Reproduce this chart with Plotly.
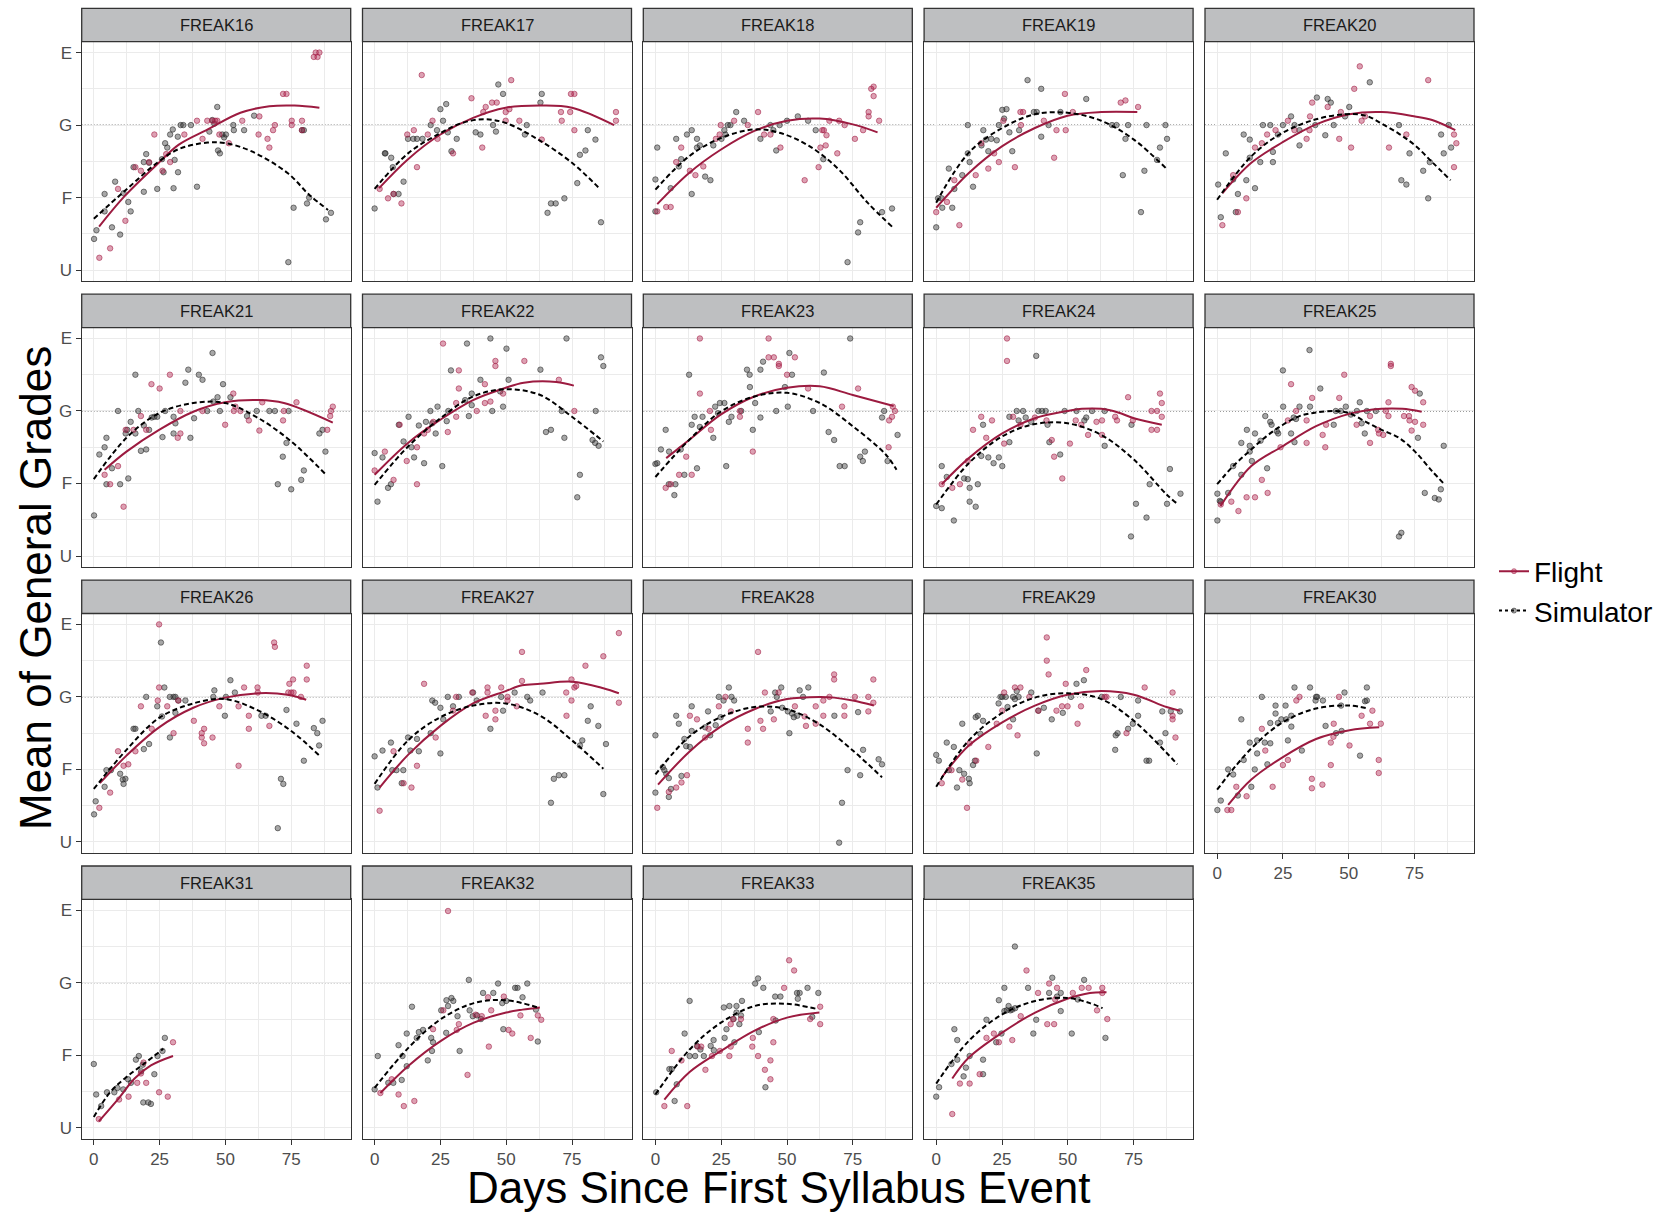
import plotly.graph_objects as go

# ---------------- data (day, grade) ; grade scale U=1, F=2, G=3, E=4 ----------------
PANELS = ["FREAK16", "FREAK17", "FREAK18", "FREAK19", "FREAK20",
          "FREAK21", "FREAK22", "FREAK23", "FREAK24", "FREAK25",
          "FREAK26", "FREAK27", "FREAK28", "FREAK29", "FREAK30",
          "FREAK31", "FREAK32", "FREAK33", "FREAK35"]

Y_TICK_VALS = [1, 2, 3, 4]
Y_TICK_TEXT = ["U", "F", "G", "E"]
X_TICK_VALS = [0, 25, 50, 75]
X_MINOR = [12.5, 37.5, 62.5, 87.5]
Y_MINOR = [1.5, 2.5, 3.5]
REF_GRADE = 3  # "G"

F16_SIM = [(0.1,1.43),(1.0,1.55),(4.1,2.05),(4.1,1.81),(6.9,1.59),(8.1,2.22),(10.0,1.49),(11.3,2.06),(13.1,1.94),(14.0,1.81),(15.1,2.42),(19.0,2.49),(19.0,2.08),(19.9,2.60),(21.0,2.48),(24.1,2.12),(25.9,2.53),(26.5,2.35),(27.1,2.75),(27.9,2.69),(29.0,2.87),(30.0,2.94),(30.7,2.52),(30.3,2.13),(31.9,2.84),(32.0,2.35),(33.0,3.0),(34.0,3.0),(36.9,3.0),(39.2,2.15),(43.9,2.91),(45.0,3.07),(45.8,3.02),(46.9,3.25),(47.2,2.65),(47.9,2.61),(48.8,2.87),(49.5,2.83),(50.2,2.87),(53.0,3.0),(53.2,2.93),(57.1,2.93),(60.9,3.13),(73.9,1.11),(75.9,1.86),(79.1,2.93),(79.8,2.93),(81.0,1.92),(81.8,2.0),(88.2,1.70),(90.1,1.79)]
F16_FLT = [(2.1,1.17),(6.2,1.30),(9.2,2.12),(12.0,1.68),(15.8,2.42),(17.9,2.37),(21.0,2.49),(23.0,2.87),(26.1,2.37),(27.5,2.60),(29.0,2.49),(34.4,2.87),(39.2,3.06),(41.3,2.81),(43.1,3.06),(45.0,3.06),(46.1,3.06),(46.9,3.06),(47.7,2.87),(51.3,2.75),(56.4,3.06),(62.6,2.87),(62.9,3.12),(66.0,2.81),(66.7,2.69),(68.1,2.93),(68.8,3.0),(71.9,3.43),(73.2,3.43),(75.2,3.06),(75.2,3.0),(79.1,3.06),(79.1,2.93),(83.6,3.94),(84.3,4.0),(85.7,4.0),(85.0,3.94)]
F16_FLT_FIT = [(2,1.60),(11.7,2.02),(24.1,2.46),(32.3,2.73),(43.3,2.94),(55.7,3.17),(66.7,3.26),(76.3,3.27),(85.7,3.24)]
F16_SIM_FIT = [(0,1.71),(11.7,2.09),(24.1,2.48),(32.3,2.67),(43.3,2.76),(50.2,2.75),(59.8,2.64),(73.6,2.34),(81.8,2.04),(89,1.83)]

F17_SIM = [(0,1.85),(3.9,2.61),(4.1,2.61),(6.3,2.55),(6.9,2.42),(7.2,2.05),(9.1,2.05),(11.0,2.22),(12.7,2.81),(14.7,2.81),(16.1,2.81),(18.2,2.81),(21.3,3.0),(23.7,2.93),(25.0,3.22),(26.0,3.06),(27.2,3.29),(27.8,2.90),(29.2,2.64),(31.2,2.81),(38.4,2.90),(40.2,2.87),(45.0,3.0),(46.1,2.91),(47.0,3.56),(48.8,3.43),(57.1,2.87),(57.8,3.0),(63.5,3.43),(63.0,3.31),(65.7,1.79),(67.0,1.92),(68.8,1.92),(72.1,1.99),(77.0,2.20),(78.0,2.59),(80.1,2.65),(81.0,2.93),(83.9,2.80),(86.0,1.66)]
F17_FLT = [(1.9,2.12),(5.1,1.99),(7.2,2.05),(10.2,1.92),(12.4,2.87),(14.9,2.93),(16.1,2.42),(17.9,3.69),(20.2,2.87),(22.0,3.06),(23.9,2.81),(29.8,2.61),(36.8,3.37),(40.9,2.69),(41.3,3.18),(42.2,3.25),(44.6,3.31),(46.4,3.31),(49.8,3.18),(49.8,3.06),(51.2,3.22),(51.9,3.62),(55.0,3.06),(63.5,2.80),(70.8,3.18),(71.1,3.06),(74.3,3.18),(74.6,3.43),(75.9,3.43),(75.9,2.93),(91.7,3.18),(91.7,3.06)]
F17_FLT_FIT = [(1.7,2.13),(12.7,2.53),(25,2.87),(37.4,3.10),(49.8,3.24),(63.5,3.27),(75,3.24),(91,3.0)]
F17_SIM_FIT = [(0,2.12),(12.7,2.61),(25,2.89),(33.3,3.03),(41.5,3.08),(49.8,3.03),(62.2,2.80),(75,2.48),(85.6,2.12)]

F18_SIM = [(0,2.25),(0,1.81),(0.7,2.69),(5.8,2.13),(7.9,2.81),(8.9,2.43),(9.8,2.53),(12.0,2.87),(13.8,2.93),(13.8,2.05),(15.8,2.81),(15.8,2.69),(16.9,2.72),(18.9,2.29),(20.9,2.24),(22.0,2.72),(25.1,2.81),(26.2,2.93),(26.6,2.87),(27.5,3.0),(28.5,3.0),(30.7,3.18),(33.7,3.06),(39.9,2.81),(43.7,3.0),(44.8,2.93),(45.9,2.65),(47.2,3.0),(50.0,3.06),(54.1,3.12),(58.0,3.06),(60.9,2.93),(63.8,2.53),(73.0,1.11),(77.0,1.52),(77.8,1.66),(86.1,1.80),(89.9,1.85)]
F18_FLT = [(0.7,1.81),(4.1,1.87),(5.8,1.87),(7.9,2.49),(9.8,2.69),(13.1,2.37),(15.2,2.31),(18.2,2.43),(23.0,2.81),(24.4,2.87),(24.8,3.0),(29.9,3.06),(35.1,3.0),(39.0,3.18),(41.3,2.87),(43.7,2.87),(47.5,2.69),(56.7,2.24),(62.0,2.42),(62.7,2.69),(63.4,2.93),(64.0,2.93),(64.7,2.72),(65.0,2.86),(66.1,3.06),(69.1,2.61),(69.8,3.06),(71.9,3.0),(75.8,2.81),(78.9,2.93),(81.0,3.12),(81.0,3.18),(82.0,3.50),(82.9,3.53),(82.9,3.40),(85.0,3.06)]
F18_FLT_FIT = [(0.7,1.91),(12.8,2.34),(24.8,2.66),(37.6,2.92),(50,3.06),(62.4,3.09),(75,3.01),(84.4,2.90)]
F18_SIM_FIT = [(0,2.11),(12.8,2.57),(24.8,2.82),(37.6,2.94),(47.5,2.89),(58.5,2.71),(69.6,2.39),(80.6,1.93),(89.9,1.60)]

F19_SIM = [(0,1.59),(0.7,1.99),(2.1,1.99),(2.3,1.86),(4.8,2.40),(6.1,1.86),(6.9,2.12),(9.9,2.31),(12.0,2.61),(12.7,2.49),(12.0,3.0),(14.0,2.15),(17.2,2.72),(17.9,2.93),(18.9,2.80),(19.8,2.64),(20.9,2.81),(23.0,2.79),(23.8,3.0),(25.1,3.21),(25.8,3.09),(26.7,3.22),(27.8,2.90),(28.9,2.64),(31.5,2.93),(34.7,3.62),(37.1,3.18),(38.2,3.18),(39.9,3.50),(39.9,2.84),(42.7,3.0),(47.2,3.18),(57.0,3.36),(66.8,3.0),(68.5,3.0),(70.9,2.31),(71.9,2.81),(72.9,3.0),(77.8,1.80),(79.1,2.37),(79.9,3.0),(83.9,2.52),(85.0,2.69),(87.1,3.0),(87.7,2.81)]
F19_FLT = [(0,1.80),(4.1,1.94),(6.9,2.24),(8.8,1.62),(15.0,2.31),(17.1,2.75),(19.8,2.40),(22.0,2.61),(23.8,2.49),(25.5,3.06),(29.9,2.42),(32.0,3.18),(33.0,3.18),(32.2,3.0),(40.9,3.06),(44.8,2.55),(45.7,2.93),(48.9,3.43),(49.2,2.93),(51.9,3.18),(70.1,3.31),(71.9,3.34),(76.7,3.25)]
F19_FLT_FIT = [(0,1.86),(12.4,2.34),(25.1,2.71),(37.5,2.96),(49.9,3.13),(62.7,3.18),(76.4,3.18)]
F19_SIM_FIT = [(0,1.93),(12.4,2.62),(25.1,2.96),(37.5,3.15),(49.9,3.17),(62.7,3.06),(75.1,2.80),(87.7,2.39)]

F20_SIM = [(0.4,2.18),(1.4,1.73),(3.3,2.61),(6.1,2.25),(7.1,1.80),(7.9,2.05),(10.1,2.87),(11.1,2.24),(12.4,2.80),(12.4,2.55),(14.4,2.13),(16.4,2.49),(17.4,3.0),(20.2,3.0),(21.2,2.63),(21.2,2.49),(23.1,2.87),(25.0,3.0),(28.1,3.12),(29.4,3.0),(31.3,2.93),(31.3,2.72),(37.3,3.0),(37.9,3.38),(41.1,2.86),(42.0,3.36),(43.2,3.31),(44.3,3.0),(48.6,3.12),(50.2,3.25),(58.0,3.59),(69.1,3.0),(70.0,2.24),(71.9,2.18),(73.1,2.61),(78.3,2.37),(80.2,1.99),(80.8,2.49),(85.1,2.87),(86.1,2.61),(88.0,3.0),(88.9,2.69)]
F20_FLT = [(2.0,1.62),(6.1,2.31),(7.9,1.80),(11.1,1.99),(14.4,2.69),(17.0,2.75),(19.0,2.87),(22.2,2.93),(26.9,3.06),(29.4,2.93),(34.0,2.81),(35.1,2.93),(35.3,3.12),(36.1,3.31),(42.0,3.25),(46.4,2.81),(47.0,3.18),(50.9,2.69),(52.1,3.50),(54.2,3.81),(54.9,3.06),(56.2,3.12),(65.3,2.69),(71.9,2.87),(80.2,3.62),(90.0,2.87),(90.9,2.75),(90.0,2.42)]
F20_FLT_FIT = [(2,2.06),(13,2.48),(24.7,2.76),(37.6,3.01),(50.2,3.15),(62.5,3.18),(75.2,3.12),(81.7,3.07),(90.5,2.93)]
F20_SIM_FIT = [(0,1.97),(13,2.57),(24.7,2.89),(37.6,3.08),(48.9,3.15),(56.5,3.13),(62.5,3.02),(69.1,2.88),(75.2,2.72),(81.7,2.49),(88.7,2.24)]

F21_SIM = [(0.1,1.56),(2.1,2.40),(4.1,2.50),(4.8,2.63),(4.8,1.99),(6.9,2.21),(9.2,3.0),(10.0,1.99),(12.1,2.69),(12.7,2.74),(13.1,2.07),(14.0,2.85),(15.8,3.50),(15.8,2.69),(16.9,3.0),(17.9,2.45),(19.0,2.80),(19.9,2.47),(21.0,2.74),(22.0,2.91),(23.0,2.92),(24.1,2.92),(26.1,2.64),(27.1,3.0),(30.3,2.92),(30.3,2.69),(31.0,2.83),(34.8,3.39),(35.9,3.57),(36.7,2.63),(38.1,2.90),(39.9,3.50),(41.3,3.43),(43.1,3.0),(45.1,3.80),(45.4,3.13),(47.0,3.19),(47.9,3.0),(49.1,3.37),(51.9,3.19),(58.2,2.93),(61.9,3.0),(66.7,3.0),(68.8,3.0),(69.9,1.99),(71.8,2.37),(73.2,2.56),(74.0,3.0),(75.0,1.92),(78.8,2.05),(79.8,2.18),(85.7,2.69),(86.9,2.74),(88.0,2.44)]
F21_FLT = [(4.1,2.12),(6.2,1.99),(9.2,2.24),(11.3,1.68),(12.1,2.74),(15.1,2.74),(17.9,2.93),(19.9,2.74),(21.9,3.37),(25.0,3.31),(28.9,3.50),(31.9,2.63),(32.9,2.69),(32.9,3.0),(41.3,3.0),(49.9,2.81),(53.0,3.24),(53.2,3.0),(53.8,3.06),(55.7,3.0),(58.9,2.87),(62.9,2.73),(64.0,3.12),(71.9,2.87),(72.2,3.0),(77.0,3.12),(88.7,2.74),(89.8,2.93),(90.1,3.0),(90.8,3.06)]
F21_FLT_FIT = [(4.1,2.19),(12.4,2.44),(24.8,2.74),(37.8,2.99),(49.9,3.12),(62.6,3.15),(72.2,3.11),(90.8,2.84)]
F21_SIM_FIT = [(0,2.06),(12.4,2.63),(24.8,2.97),(37.8,3.11),(49.9,3.11),(62.6,2.90),(75,2.58),(88,2.13)]

F22_SIM = [(0,2.42),(1.1,1.75),(3.0,2.36),(5.1,1.94),(6.2,1.99),(9.2,2.81),(11.0,2.58),(12.9,2.92),(14.0,2.50),(15.0,2.36),(16.8,2.80),(18.8,2.28),(19.5,2.85),(21.2,3.0),(21.9,2.83),(23.2,2.69),(23.9,3.06),(25.7,2.24),(27.4,2.86),(28.0,3.0),(29.0,3.56),(34.4,3.15),(35.1,3.93),(35.8,2.93),(36.9,3.24),(36.9,3.08),(40.2,3.43),(44.0,4.0),(44.7,3.0),(47.7,3.27),(48.8,3.06),(50.1,3.86),(50.9,3.43),(63.0,3.57),(65.1,2.71),(67.0,2.74),(71.1,3.0),(72.1,2.63),(72.9,4.0),(77.0,1.81),(78.0,2.12),(82.8,2.60),(83.8,2.56),(84.0,3.0),(85.1,2.52),(86.0,3.74),(86.9,3.62)]
F22_FLT = [(0,2.18),(3.9,2.44),(7.2,2.05),(9.5,2.81),(12.2,2.31),(16.1,2.50),(16.1,1.99),(18.8,2.69),(20.2,2.74),(22.3,2.85),(26.0,3.93),(27.8,2.71),(31.0,2.92),(31.0,3.11),(32.0,3.31),(32.0,3.56),(38.8,3.0),(41.9,3.37),(41.9,3.11),(44.0,3.13),(45.9,3.69),(45.9,3.62),(48.8,3.24),(56.9,3.69),(70.0,3.43),(75.9,3.0)]
F22_FLT_FIT = [(0,2.12),(12.7,2.56),(25,2.88),(37.4,3.15),(49.8,3.32),(56.7,3.39),(69,3.40),(75.7,3.35)]
F22_SIM_FIT = [(0,1.98),(12.7,2.51),(25,2.90),(37.4,3.20),(49.8,3.30),(62.9,3.22),(75,2.92),(86.9,2.58)]

F23_SIM = [(0,2.27),(0.7,2.28),(2.1,2.47),(3.9,2.74),(5.1,1.99),(5.2,2.44),(7.2,1.84),(7.6,1.99),(9.6,2.47),(11.0,2.12),(12.8,3.50),(13.8,2.81),(14.9,2.92),(15.8,2.21),(16.9,2.78),(17.9,2.92),(22.0,2.63),(22.7,3.06),(23.8,2.97),(24.5,3.11),(26.2,3.11),(26.9,2.24),(27.9,2.85),(28.9,2.92),(32.6,3.0),(34.8,3.57),(35.8,3.50),(35.9,3.33),(37.0,2.74),(37.9,3.11),(39.9,2.91),(39.9,3.57),(40.9,3.68),(45.9,3.0),(49.2,3.33),(50.3,3.06),(50.9,3.80),(51.9,3.50),(59.9,3.0),(64.0,3.53),(65.8,2.71),(67.9,2.60),(70.0,2.24),(71.9,2.24),(74.0,4.0),(77.8,2.37),(78.8,2.31),(79.6,2.44),(86.1,2.91),(86.9,3.0),(88.2,2.31),(92.0,2.67)]
F23_FLT = [(3.9,1.94),(5.8,1.99),(9.0,2.12),(11.7,2.37),(13.8,2.12),(16.9,4.0),(16.9,3.24),(20.7,3.0),(21.1,2.74),(32.1,3.0),(32.1,2.92),(37.0,2.44),(43.0,4.0),(43.0,3.74),(45.0,3.74),(46.9,3.65),(46.9,3.62),(50.0,3.50),(53.0,3.74),(58.0,3.31),(70.9,3.06),(77.0,3.31),(88.6,2.50),(88.8,2.87),(89.9,2.92),(90.2,3.06),(91.0,3.0)]
F23_FLT_FIT = [(4.1,2.35),(12.8,2.60),(24.8,2.95),(37.6,3.20),(50,3.32),(62.4,3.34),(75,3.22),(90.5,3.07)]
F23_SIM_FIT = [(0,2.09),(12.8,2.60),(24.8,2.99),(37.6,3.20),(50,3.25),(62.4,3.11),(75,2.79),(87.5,2.40),(91.6,2.19)]

F24_SIM = [(0,1.69),(2.1,1.66),(2.1,2.24),(4.0,2.09),(6.7,1.49),(10.6,2.07),(12.0,2.06),(12.7,1.94),(12.7,1.75),(15.0,1.68),(15.8,1.99),(17.1,2.38),(17.8,2.81),(19.8,2.36),(21.8,2.28),(23.8,2.36),(25.1,2.24),(27.8,2.57),(27.8,2.92),(30.6,3.0),(31.3,2.87),(33.0,3.0),(34.0,2.91),(36.1,2.85),(38.0,3.76),(38.8,3.0),(40.2,3.0),(41.6,3.0),(42.3,2.81),(43.0,2.57),(47.1,2.40),(48.8,3.0),(53.3,3.0),(56.3,2.87),(57.0,2.91),(59.2,3.0),(64.0,2.52),(64.0,3.0),(74.0,1.27),(74.2,2.81),(75.9,1.72),(79.9,1.53),(81.1,1.99),(87.7,1.72),(88.8,2.20),(92.8,1.86)]
F24_FLT = [(2.1,1.99),(6.1,1.94),(9.0,1.99),(12.0,2.31),(14.0,2.74),(17.1,2.92),(19.0,2.63),(21.2,2.87),(25.8,2.55),(26.9,4.0),(26.9,3.69),(29.2,2.92),(32.0,2.81),(37.5,2.91),(41.9,2.87),(43.9,2.60),(44.8,2.37),(47.9,2.07),(50.8,2.55),(53.0,2.87),(55.1,2.81),(57.7,2.67),(60.9,2.85),(63.0,2.87),(63.0,2.67),(68.0,2.92),(68.7,2.87),(72.9,3.19),(74.7,2.87),(81.8,3.0),(81.8,2.74),(83.9,3.0),(83.9,2.74),(85.0,3.24),(85.7,3.11),(85.7,2.92)]
F24_FLT_FIT = [(2.1,1.99),(12.4,2.35),(25.1,2.69),(37.5,2.90),(49.9,3.0),(55.4,3.03),(62.7,3.03),(69.1,2.98),(75.1,2.90),(85.7,2.81)]
F24_SIM_FIT = [(0,1.71),(12.4,2.28),(25.1,2.65),(37.5,2.82),(49.9,2.83),(62.7,2.67),(75.1,2.33),(87.5,1.85),(91.6,1.72)]

F25_SIM = [(0.1,1.86),(0.1,1.49),(1.0,1.76),(1.4,1.75),(4.2,1.87),(6.1,2.24),(9.2,2.56),(9.2,2.12),(11.3,2.74),(12.4,2.52),(12.4,2.44),(13.2,2.31),(14.4,2.69),(16.5,2.59),(18.3,2.93),(19.0,2.21),(20.2,2.85),(20.7,2.81),(22.7,2.72),(23.2,2.69),(25.0,3.56),(25.1,3.06),(28.1,2.69),(29.1,2.91),(29.4,2.57),(30.0,2.89),(31.3,3.06),(35.1,3.84),(35.3,3.06),(39.2,3.31),(44.3,2.81),(45.1,3.0),(47.0,3.0),(48.9,3.06),(50.8,2.95),(53.1,3.0),(54.2,3.12),(54.9,2.83),(56.1,2.69),(56.9,3.0),(60.3,3.0),(69.1,1.27),(70.0,1.32),(76.3,2.63),(77.0,3.24),(78.9,1.87),(82.7,1.80),(84.2,1.78),(85.0,1.92),(86.1,2.52)]
F25_FLT = [(1.4,1.71),(5.4,1.75),(8.1,1.62),(11.2,1.81),(14.4,1.81),(17.0,2.05),(19.2,1.87),(24.1,2.50),(26.9,2.87),(28.1,3.37),(30.0,3.0),(34.0,2.87),(34.0,2.56),(36.1,3.18),(40.1,2.67),(41.1,2.50),(41.4,2.81),(46.4,3.18),(48.3,3.50),(53.0,2.81),(58.1,2.56),(58.1,2.93),(61.2,2.74),(61.5,2.69),(63.1,2.67),(64.1,3.0),(65.1,2.93),(65.1,3.12),(66.0,3.65),(66.0,3.62),(71.0,2.93),(72.9,2.93),(73.1,2.87),(73.9,3.33),(73.9,2.73),(75.2,3.28),(75.2,2.85),(78.3,3.12),(78.3,2.81)]
F25_FLT_FIT = [(1.3,1.69),(13,2.24),(24.7,2.51),(37.6,2.79),(50.2,2.96),(62.5,3.03),(70.4,3.03),(77.7,2.99)]
F25_SIM_FIT = [(0,1.99),(6.1,2.24),(12.4,2.45),(18.7,2.65),(25,2.81),(31.3,2.93),(37.6,2.98),(45.1,3.0),(50.2,2.97),(56.5,2.85),(62.5,2.74),(69.1,2.63),(75.2,2.44),(81.7,2.17),(86.1,2.0)]

F26_SIM = [(0.1,1.38),(0.7,1.56),(4.1,1.76),(4.8,1.99),(6.5,1.99),(10.0,1.94),(11.0,1.86),(11.3,1.80),(12.0,1.87),(15.1,2.56),(15.8,2.56),(19.0,2.28),(19.9,3.0),(21.0,2.35),(24.1,2.87),(25.5,3.75),(25.9,2.73),(26.8,3.13),(28.9,3.0),(28.9,2.44),(30.3,3.0),(31.0,3.0),(31.0,2.78),(32.1,2.95),(34.8,2.95),(45.4,3.0),(45.8,3.09),(49.8,2.74),(50.2,3.0),(51.9,3.23),(53.6,3.06),(63.7,2.74),(65.3,2.74),(69.9,1.19),(71.1,1.87),(72.0,1.80),(73.2,2.82),(77.0,2.63),(79.8,2.12),(83.6,2.57),(84.9,2.50),(85.6,2.33),(86.9,2.67)]
F26_FLT = [(2.1,1.47),(6.2,1.68),(9.2,2.25),(11.3,2.05),(13.1,2.07),(15.8,2.25),(17.9,2.87),(22.0,2.56),(24.3,2.95),(24.8,4.0),(24.8,3.13),(27.9,2.87),(30.3,2.50),(32.1,2.95),(38.0,2.67),(41.0,2.44),(41.0,2.50),(41.9,2.56),(41.9,2.36),(45.1,2.44),(47.7,2.87),(55.0,2.87),(55.0,2.05),(57.1,3.13),(58.9,2.74),(58.9,2.56),(62.2,3.13),(62.3,3.06),(66.7,2.60),(68.5,3.75),(68.8,3.69),(73.9,3.06),(74.3,3.18),(75.0,3.06),(75.7,3.24),(75.9,3.06),(78.7,3.0),(80.9,3.43),(80.9,3.24)]
F26_FLT_FIT = [(2.3,1.81),(12.4,2.19),(24.8,2.58),(37.8,2.85),(49.9,2.99),(62.6,3.05),(73.6,3.03),(80.7,2.96)]
F26_SIM_FIT = [(0,1.73),(12.4,2.27),(24.8,2.71),(37.8,2.91),(49.9,2.97),(62.6,2.81),(75,2.53),(85.7,2.19)]

F27_SIM = [(0,2.18),(1.1,1.75),(3.0,2.26),(6.2,2.37),(6.7,1.99),(8.3,1.99),(10.3,1.81),(10.9,1.99),(12.7,2.44),(13.6,2.26),(16.8,2.25),(16.1,2.42),(21.3,2.50),(21.9,2.95),(23.0,2.92),(25.0,2.85),(25.0,2.22),(26.1,2.69),(27.8,3.0),(29.8,2.87),(32.0,3.0),(37.4,3.06),(38.8,2.95),(44.0,2.56),(48.1,3.0),(48.8,2.81),(53.2,3.06),(58.0,3.0),(59.1,2.95),(63.8,3.06),(67.0,1.54),(68.1,1.87),(70.0,1.92),(72.1,1.92),(78.0,2.33),(78.9,2.40),(81.0,2.67),(82.1,2.87),(85.0,2.60),(86.9,1.66),(87.9,2.35)]
F27_FLT = [(1.9,1.43),(7.2,2.25),(11.0,1.81),(14.0,1.75),(16.1,2.05),(18.8,3.18),(23.2,2.44),(29.8,2.81),(31.0,3.0),(37.1,3.06),(42.2,2.74),(42.9,3.13),(42.9,3.06),(45.9,2.69),(45.9,2.81),(48.1,3.13),(50.5,2.95),(50.5,3.0),(54.0,2.87),(56.0,3.62),(56.0,3.22),(72.8,3.06),(72.9,2.74),(74.8,2.95),(74.8,3.24),(75.9,3.13),(76.6,3.15),(80.1,3.43),(86.9,3.56),(92.8,3.88),(92.8,2.92)]
F27_FLT_FIT = [(1.9,1.75),(12.7,2.20),(25,2.60),(37.4,2.91),(49.8,3.08),(56,3.16),(62.9,3.18),(75,3.21),(86.9,3.12),(92.8,3.05)]
F27_SIM_FIT = [(0,1.80),(12.7,2.40),(25,2.72),(37.4,2.88),(49.8,2.91),(62.9,2.74),(75,2.40),(86.9,2.01)]

F28_SIM = [(0,2.47),(0,1.68),(2.8,2.03),(3.4,1.99),(4.1,1.94),(5.1,1.88),(5.1,1.62),(5.9,1.73),(7.9,2.74),(8.9,2.63),(9.9,1.91),(11.0,2.42),(11.7,2.32),(13.1,2.31),(13.8,2.87),(13.8,2.53),(18.9,2.58),(20.8,2.47),(20.0,2.80),(22.9,2.61),(24.1,3.0),(24.8,2.72),(25.9,2.95),(27.9,3.13),(28.9,3.0),(29.9,2.95),(43.8,2.80),(45.5,3.06),(46.1,3.0),(47.8,3.13),(48.2,2.85),(50.3,2.80),(50.9,2.50),(51.9,2.77),(52.6,2.72),(53.9,2.74),(54.8,3.09),(56.1,3.0),(58.1,3.13),(68.0,2.74),(69.8,0.99),(70.9,1.54),(73.0,1.99),(77.0,2.79),(77.8,1.92),(78.9,2.27),(84.8,2.14),(86.1,2.07)]
F28_FLT = [(0.7,1.47),(5.1,1.69),(7.9,1.75),(9.9,1.82),(12.0,1.92),(13.1,2.74),(15.8,2.69),(18.9,2.44),(20.2,2.56),(24.1,2.87),(26.6,3.0),(28.7,2.80),(35.1,2.37),(35.1,2.56),(39.0,3.62),(39.9,2.67),(40.9,2.56),(41.6,3.06),(45.0,2.69),(46.8,3.06),(53.0,2.87),(56.7,2.73),(57.2,2.60),(60.9,2.87),(60.9,2.63),(63.8,2.95),(63.8,2.74),(66.1,3.0),(67.9,3.31),(67.9,3.24),(71.8,2.87),(71.8,2.74),(75.8,3.0),(80.9,3.0),(80.9,2.80),(82.8,3.24),(82.8,2.92)]
F28_FLT_FIT = [(1,1.79),(12.8,2.24),(24.8,2.59),(37.6,2.83),(50,2.97),(62.4,3.0),(67.9,2.99),(75,2.95),(83,2.88)]
F28_SIM_FIT = [(0,1.93),(12.8,2.45),(24.8,2.72),(37.6,2.86),(50,2.83),(62.4,2.62),(75,2.26),(86.1,1.89)]

F29_SIM = [(0,2.20),(1.0,2.12),(4.0,2.37),(4.8,1.99),(6.7,2.31),(7.9,1.75),(8.8,1.99),(9.9,2.63),(10.6,1.94),(12.4,1.87),(12.7,1.81),(14.0,2.06),(14.7,2.12),(15.0,2.72),(15.8,2.74),(16.8,2.49),(17.8,2.67),(23.7,2.91),(24.4,3.0),(25.1,3.0),(26.4,3.0),(27.1,2.86),(29.2,2.69),(29.2,3.0),(29.9,2.97),(30.6,3.08),(31.3,3.0),(36.1,3.06),(38.2,2.22),(38.8,2.81),(40.9,2.85),(43.9,2.69),(48.1,2.78),(51.2,3.0),(53.3,3.18),(56.1,3.23),(62.9,3.0),(68.2,2.47),(68.0,2.27),(68.9,2.50),(70.1,3.0),(72.9,2.56),(74.7,2.63),(76.7,2.74),(76.7,2.95),(79.9,2.12),(80.9,2.12),(85.0,2.37),(85.9,2.80),(87.1,2.50),(89.1,2.80),(92.6,2.80)]
F29_FLT = [(2.1,1.81),(5.8,1.99),(9.9,1.86),(11.7,1.47),(12.7,2.36),(15.2,2.12),(19.8,2.31),(23.0,2.63),(25.1,2.81),(25.8,3.06),(27.8,2.59),(29.9,3.13),(30.9,2.47),(32.0,3.13),(35.4,3.0),(38.8,2.81),(42.0,3.82),(42.0,3.50),(42.7,3.31),(45.7,2.81),(47.8,2.87),(49.2,3.18),(49.9,2.87),(53.7,2.63),(55.0,2.87),(57.0,3.37),(64.0,3.0),(64.7,3.0),(72.3,2.50),(79.2,3.13),(89.8,3.06),(89.8,2.74),(89.8,2.69),(90.9,2.44)]
F29_FLT_FIT = [(2.1,1.89),(12.4,2.33),(25.1,2.65),(37.5,2.88),(49.9,3.03),(62.7,3.08),(75.1,3.03),(87.5,2.86),(92.6,2.81)]
F29_SIM_FIT = [(0,1.76),(12.4,2.40),(25.1,2.78),(37.5,2.99),(49.9,3.05),(62.7,2.97),(75.1,2.67),(87.5,2.23),(91.6,2.07)]

F30_SIM = [(0.1,1.44),(1.4,1.57),(4.2,2.0),(6.1,1.93),(7.9,1.64),(9.2,2.69),(10.1,2.13),(12.4,2.37),(13.0,1.76),(14.3,2.0),(15.2,2.22),(15.2,2.40),(17.0,3.0),(18.1,2.37),(19.1,2.07),(20.2,2.36),(20.2,2.64),(22.2,2.88),(22.2,2.77),(23.1,2.64),(24.4,2.69),(26.0,2.88),(26.3,2.69),(26.9,2.40),(28.2,2.74),(28.2,2.59),(29.4,3.13),(32.2,2.26),(35.3,3.13),(37.6,3.0),(38.0,3.0),(37.4,2.95),(40.2,2.95),(41.2,2.60),(45.2,2.50),(47.3,2.53),(47.1,2.88),(48.4,3.06),(54.3,2.19),(56.2,2.94),(56.9,2.95),(56.9,3.13)]
F30_FLT = [(3.9,1.44),(5.4,1.44),(7.3,1.76),(11.2,1.63),(17.0,2.56),(18.3,2.26),(21.1,1.76),(25.0,2.06),(26.9,2.13),(30.1,2.95),(31.3,3.0),(36.0,1.87),(36.0,1.74),(40.0,1.79),(43.2,2.37),(43.2,2.06),(44.2,2.45),(44.3,2.63),(46.3,3.0),(50.3,2.33),(54.9,2.74),(58.1,2.63),(59.0,2.81),(61.4,2.13),(61.4,1.95),(62.2,2.63)]
F30_FLT_FIT = [(4.2,1.51),(13,1.86),(25,2.17),(37.6,2.42),(50.3,2.54),(61.6,2.58)]
F30_SIM_FIT = [(0,1.72),(13,2.29),(25,2.65),(37.6,2.84),(50.3,2.88),(57.2,2.84)]

F31_SIM = [(0,1.88),(0.9,1.46),(2.8,1.30),(5.0,1.49),(7.8,1.49),(9.0,1.55),(11.2,1.53),(13.0,1.67),(14.1,1.62),(16.0,1.94),(17.1,1.99),(18.0,1.78),(18.6,1.87),(18.8,1.35),(20.7,1.35),(21.7,1.33),(23.0,1.74),(24.2,1.99),(26.1,2.06),(27.0,2.24)]
F31_FLT = [(1.9,1.12),(9.6,1.39),(13.2,1.43),(16.5,1.62),(17.9,1.75),(18.9,1.90),(19.9,1.62),(24.8,1.49),(28.1,1.43),(30.1,2.18)]
F31_FLT_FIT = [(1.9,1.09),(9.3,1.40),(15.5,1.68),(21.7,1.86),(30.1,1.99)]
F31_SIM_FIT = [(0,1.15),(6.2,1.49),(12.4,1.70),(18.6,1.87),(26.4,2.09)]

F32_SIM = [(0,1.53),(1.2,1.99),(5.2,1.62),(7.1,1.62),(9.1,2.14),(10.3,1.66),(10.6,1.99),(12.2,2.30),(12.2,1.85),(14.2,2.67),(16.0,2.24),(16.8,2.32),(18.4,2.35),(20.2,1.93),(21.5,2.24),(21.8,2.06),(22.2,2.18),(25.3,2.62),(27.2,2.31),(27.3,2.76),(27.9,2.68),(29.2,2.79),(29.9,2.75),(31.5,2.54),(32.3,2.06),(35.8,3.04),(36.1,2.62),(37.3,2.54),(38.9,2.55),(40.4,2.50),(41.2,2.86),(45.1,2.86),(46.9,2.99),(48.5,2.72),(48.9,2.36),(50.0,2.75),(53.4,2.93),(54.3,2.93),(56.2,2.80),(58.0,2.99),(61.3,2.63),(62.0,2.19)]
F32_FLT = [(2.2,1.48),(6.5,1.67),(9.1,1.46),(11.1,1.30),(15.1,1.37),(22.2,2.36),(26.1,2.62),(27.9,3.99),(31.2,2.35),(32.0,2.43),(35.3,1.73),(38.4,2.56),(40.7,2.54),(43.1,2.80),(43.4,2.12),(44.3,2.62),(49.1,2.81),(50.9,2.35),(52.3,2.30),(55.4,2.55),(59.3,2.24),(62.0,2.55),(63.3,2.49)]
F32_FLT_FIT = [(2.2,1.48),(13,1.86),(25.2,2.20),(37.7,2.45),(50,2.59),(56.2,2.63),(62.8,2.66)]
F32_SIM_FIT = [(0,1.55),(13,2.11),(25.2,2.50),(37.7,2.72),(50,2.76),(62.8,2.65)]

F33_SIM = [(0.3,1.49),(5.3,1.81),(6.2,1.81),(7.3,1.37),(8.1,1.60),(11.1,2.30),(13.0,2.75),(13.0,1.99),(15.1,1.99),(15.8,2.13),(17.1,2.08),(18.4,1.99),(21.0,2.13),(22.1,2.21),(22.2,2.07),(26.0,2.66),(26.3,2.24),(27.0,2.36),(28.1,2.68),(29.7,2.50),(30.8,2.68),(30.8,2.59),(30.0,2.18),(31.9,2.43),(32.5,2.55),(32.9,2.75),(37.9,2.99),(39.0,3.06),(39.3,2.32),(41.0,2.93),(41.8,1.56),(45.5,2.81),(45.7,2.48),(47.5,2.81),(53.8,2.86),(54.1,2.78),(54.8,2.86),(57.8,2.93),(59.6,2.53),(61.9,2.86)]
F33_FLT = [(3.4,1.30),(6.2,2.06),(9.9,1.93),(12.1,1.30),(16.0,2.12),(17.4,2.12),(19.0,1.80),(21.5,1.99),(24.5,2.06),(28.1,1.99),(28.6,2.12),(28.6,2.43),(29.5,2.50),(32.5,2.50),(36.8,2.12),(37.0,2.24),(39.0,1.99),(41.6,1.80),(43.7,1.67),(43.7,1.93),(44.8,2.18),(44.8,2.50),(48.9,2.93),(50.8,3.31),(52.7,3.17),(58.8,2.50),(62.6,2.67),(62.6,2.43)]
F33_FLT_FIT = [(3.4,1.39),(13,1.77),(24.9,2.06),(37.7,2.34),(50,2.52),(62.3,2.59)]
F33_SIM_FIT = [(0,1.46),(13,2.08),(24.9,2.45),(37.7,2.68),(50,2.71),(61.2,2.64)]

F35_SIM = [(0,1.43),(1.1,1.56),(5.8,1.88),(6.9,2.36),(8.0,2.21),(8.0,1.94),(10.4,1.71),(11.3,1.83),(12.7,1.99),(17.8,1.94),(17.8,1.74),(19.1,2.49),(22.8,2.18),(23.8,2.76),(24.8,2.30),(25.9,2.93),(25.9,2.61),(26.8,2.62),(27.5,2.68),(28.2,2.62),(28.9,2.63),(29.9,3.50),(30.0,2.65),(34.9,2.93),(36.9,2.30),(38.0,2.49),(42.9,2.86),(44.1,3.07),(45.9,2.81),(47.3,2.86),(47.3,2.61),(51.5,2.30),(53.8,2.77),(56.2,3.04),(64.3,2.24)]
F35_FLT = [(6.1,1.19),(9.0,1.61),(12.7,1.61),(16.5,1.74),(19.1,2.24),(21.9,2.30),(23.8,2.18),(28.9,2.21),(32.1,2.54),(34.3,3.17),(38.7,2.86),(42.2,2.43),(42.9,2.99),(44.8,2.43),(45.2,2.77),(45.9,2.93),(51.9,2.86),(55.3,2.93),(57.9,2.93),(61.1,2.62),(63.1,2.93),(63.1,2.86),(65.0,2.50)]
F35_FLT_FIT = [(6.1,1.68),(12.4,1.97),(24.9,2.31),(37.6,2.59),(49.8,2.78),(58.4,2.86),(64.7,2.87)]
F35_SIM_FIT = [(0,1.61),(12.4,2.20),(24.9,2.56),(37.6,2.75),(49.8,2.79),(58.4,2.72),(63.2,2.65)]

PANEL_DATA = {
    "FREAK16": (F16_SIM, F16_FLT, F16_SIM_FIT, F16_FLT_FIT),
    "FREAK17": (F17_SIM, F17_FLT, F17_SIM_FIT, F17_FLT_FIT),
    "FREAK18": (F18_SIM, F18_FLT, F18_SIM_FIT, F18_FLT_FIT),
    "FREAK19": (F19_SIM, F19_FLT, F19_SIM_FIT, F19_FLT_FIT),
    "FREAK20": (F20_SIM, F20_FLT, F20_SIM_FIT, F20_FLT_FIT),
    "FREAK21": (F21_SIM, F21_FLT, F21_SIM_FIT, F21_FLT_FIT),
    "FREAK22": (F22_SIM, F22_FLT, F22_SIM_FIT, F22_FLT_FIT),
    "FREAK23": (F23_SIM, F23_FLT, F23_SIM_FIT, F23_FLT_FIT),
    "FREAK24": (F24_SIM, F24_FLT, F24_SIM_FIT, F24_FLT_FIT),
    "FREAK25": (F25_SIM, F25_FLT, F25_SIM_FIT, F25_FLT_FIT),
    "FREAK26": (F26_SIM, F26_FLT, F26_SIM_FIT, F26_FLT_FIT),
    "FREAK27": (F27_SIM, F27_FLT, F27_SIM_FIT, F27_FLT_FIT),
    "FREAK28": (F28_SIM, F28_FLT, F28_SIM_FIT, F28_FLT_FIT),
    "FREAK29": (F29_SIM, F29_FLT, F29_SIM_FIT, F29_FLT_FIT),
    "FREAK30": (F30_SIM, F30_FLT, F30_SIM_FIT, F30_FLT_FIT),
    "FREAK31": (F31_SIM, F31_FLT, F31_SIM_FIT, F31_FLT_FIT),
    "FREAK32": (F32_SIM, F32_FLT, F32_SIM_FIT, F32_FLT_FIT),
    "FREAK33": (F33_SIM, F33_FLT, F33_SIM_FIT, F33_FLT_FIT),
    "FREAK35": (F35_SIM, F35_FLT, F35_SIM_FIT, F35_FLT_FIT),
}

# ---------------- styling / layout ----------------
W, H = 1658, 1213
FONT = "Liberation Sans, Arial, Helvetica, sans-serif"
FLIGHT_LINE = "#9C1B40"
FLIGHT_PT = "rgba(175,30,75,0.42)"
FLIGHT_PT_EDGE = "rgba(160,25,65,0.55)"
SIM_PT = "rgba(45,45,45,0.42)"
SIM_PT_EDGE = "rgba(35,35,35,0.55)"
GRID = "#EBEBEB"
FRAME = "#333333"
STRIP_FILL = "#BEBFC1"

COL_LEFT = [81.7, 362.5, 643.3, 924.1, 1205.0]
PANEL_W = 269.0
ROW_TOP = [8.3 + k * 285.9 for k in range(4)]
STRIP_H = 33.4
PLOT_H = 239.3
X_RANGE = [-4.6, 97.6]
Y_RANGE = [0.85, 4.15]

fig = go.Figure()
shapes, annotations = [], []
layout = {}

n_rows_per_col = {}
for i, _ in enumerate(PANELS):
    r, c = divmod(i, 5)
    n_rows_per_col[c] = max(n_rows_per_col.get(c, -1), r)

for i, name in enumerate(PANELS):
    r, c = divmod(i, 5)
    sim, flt, sim_fit, flt_fit = PANEL_DATA[name]
    k = "" if i == 0 else str(i + 1)
    xr, yr = "x" + k, "y" + k
    left = COL_LEFT[c]
    right = left + PANEL_W
    strip_top = ROW_TOP[r]
    top = strip_top + STRIP_H
    bottom = top + PLOT_H
    show_x = (r == n_rows_per_col[c])
    show_y = (c == 0)

    layout["xaxis" + k] = dict(
        domain=[left / W, right / W], anchor=yr, range=X_RANGE,
        tickmode="array", tickvals=X_TICK_VALS, ticktext=[str(v) for v in X_TICK_VALS],
        showticklabels=show_x, ticks="outside" if show_x else "", ticklen=5,
        tickwidth=1.2, tickcolor=FRAME, tickfont=dict(size=17, color="#4D4D4D", family=FONT),
        showgrid=True, gridcolor=GRID, gridwidth=1.3,
        minor=dict(tickmode="array", tickvals=X_MINOR, showgrid=True, gridcolor=GRID, gridwidth=0.8, ticks=""),
        showline=True, mirror=True, linecolor=FRAME, linewidth=1.3, zeroline=False, fixedrange=True,
    )
    layout["yaxis" + k] = dict(
        domain=[1 - bottom / H, 1 - top / H], anchor=xr, range=Y_RANGE,
        tickmode="array", tickvals=Y_TICK_VALS, ticktext=Y_TICK_TEXT,
        showticklabels=show_y, ticks="outside" if show_y else "", ticklen=5,
        tickwidth=1.2, tickcolor=FRAME, tickfont=dict(size=17, color="#4D4D4D", family=FONT),
        showgrid=True, gridcolor=GRID, gridwidth=1.3,
        minor=dict(tickmode="array", tickvals=Y_MINOR, showgrid=True, gridcolor=GRID, gridwidth=0.8, ticks=""),
        showline=True, mirror=True, linecolor=FRAME, linewidth=1.3, zeroline=False, fixedrange=True,
    )

    # strip
    shapes.append(dict(type="rect", xref="paper", yref="paper",
                       x0=left / W, x1=right / W, y0=1 - top / H, y1=1 - strip_top / H,
                       fillcolor=STRIP_FILL, line=dict(color=FRAME, width=1.3), layer="above"))
    annotations.append(dict(text=name, xref="paper", yref="paper",
                            x=(left + right) / 2 / W, y=1 - (strip_top + STRIP_H / 2) / H,
                            xanchor="center", yanchor="middle", showarrow=False,
                            font=dict(size=16.5, color="#1A1A1A", family=FONT)))
    # reference line at G
    shapes.append(dict(type="line", xref=xr + " domain", yref=yr, x0=0, x1=1,
                       y0=REF_GRADE, y1=REF_GRADE, layer="below",
                       line=dict(color=FRAME, width=1, dash="1px,2px")))

    fig.add_trace(go.Scatter(x=[p[0] for p in sim], y=[p[1] for p in sim], mode="markers",
                             marker=dict(size=5.5, color=SIM_PT, line=dict(color=SIM_PT_EDGE, width=1)),
                             xaxis=xr, yaxis=yr, showlegend=False, hoverinfo="skip"))
    fig.add_trace(go.Scatter(x=[p[0] for p in flt], y=[p[1] for p in flt], mode="markers",
                             marker=dict(size=5.5, color=FLIGHT_PT, line=dict(color=FLIGHT_PT_EDGE, width=1)),
                             xaxis=xr, yaxis=yr, showlegend=False, hoverinfo="skip"))
    fig.add_trace(go.Scatter(x=[p[0] for p in flt_fit], y=[p[1] for p in flt_fit], mode="lines",
                             line=dict(color=FLIGHT_LINE, width=2, shape="spline", smoothing=1.0),
                             xaxis=xr, yaxis=yr, showlegend=False, hoverinfo="skip"))
    fig.add_trace(go.Scatter(x=[p[0] for p in sim_fit], y=[p[1] for p in sim_fit], mode="lines",
                             line=dict(color="#000000", width=2, dash="5px,3px", shape="spline", smoothing=1.0),
                             xaxis=xr, yaxis=yr, showlegend=False, hoverinfo="skip"))

# legend entries
fig.add_trace(go.Scatter(x=[None], y=[None], mode="lines+markers", name="Flight",
                         line=dict(color=FLIGHT_LINE, width=2),
                         marker=dict(size=5, color=FLIGHT_PT, line=dict(color=FLIGHT_PT_EDGE, width=1))))
fig.add_trace(go.Scatter(x=[None], y=[None], mode="lines+markers", name="Simulator",
                         line=dict(color="#000000", width=2, dash="3px,3px"),
                         marker=dict(size=5, color=SIM_PT, line=dict(color=SIM_PT_EDGE, width=1))))

annotations.append(dict(text="Days Since First Syllabus Event", xref="paper", yref="paper",
                        x=779 / W, y=1 - 1187 / H, xanchor="center", yanchor="middle", showarrow=False,
                        font=dict(size=44, color="#000000", family=FONT)))
annotations.append(dict(text="Mean of General Grades", xref="paper", yref="paper",
                        x=35 / W, y=1 - 588 / H, xanchor="center", yanchor="middle", showarrow=False,
                        textangle=-90, font=dict(size=44, color="#000000", family=FONT)))

fig.update_layout(
    width=W, height=H, autosize=False,
    margin=dict(l=0, r=0, t=0, b=0, pad=0),
    paper_bgcolor="white", plot_bgcolor="white",
    font=dict(family=FONT, color="#000000"),
    shapes=shapes, annotations=annotations,
    showlegend=True,
    legend=dict(x=1494 / W, y=1 - 591 / H, xanchor="left", yanchor="middle",
                font=dict(size=28, color="#000000", family=FONT),
                bgcolor="rgba(0,0,0,0)", borderwidth=0, itemwidth=30, tracegroupgap=0),
    **layout,
)

fig.write_html("out.html", config={"displayModeBar": False},
               post_script="document.body.style.margin='0';document.body.style.padding='0';")
